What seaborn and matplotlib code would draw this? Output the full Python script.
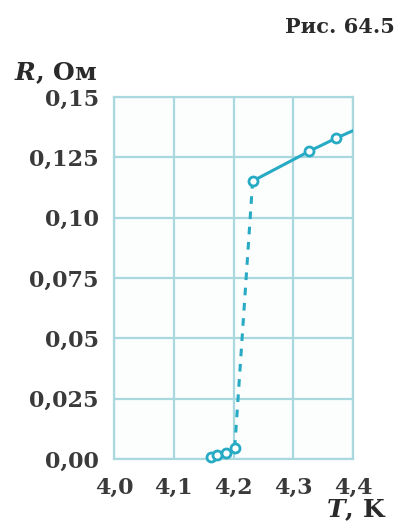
import matplotlib
matplotlib.use("Agg")
import matplotlib.pyplot as plt
import seaborn as sns
import pandas as pd

# data (T in K, R in Ohm)
T_low = [4.162, 4.173, 4.188, 4.202]
R_low = [0.0008, 0.0017, 0.0025, 0.0046]
T_jump = [4.202, 4.232]
R_jump = [0.0046, 0.1152]
T_high = [4.232, 4.327, 4.372]
R_high = [0.1152, 0.1276, 0.1330]
T_line = [4.232, 4.327, 4.372, 4.41]
R_line = [0.1152, 0.1276, 0.1330, 0.1372]
x_ticks = [4.0, 4.1, 4.2, 4.3, 4.4]
x_labels = ["4,0", "4,1", "4,2", "4,3", "4,4"]
y_ticks = [0.0, 0.025, 0.05, 0.075, 0.10, 0.125, 0.15]
y_labels = ["0,00", "0,025", "0,05", "0,075", "0,10", "0,125", "0,15"]

sns.set_style("white")
plt.rcParams['font.family'] = ['DejaVu Serif']
plt.rcParams['mathtext.fontset'] = 'dejavuserif'

line_c = "#27aac4"
grid_c = "#a9d9de"
text_c = "#2a2a2a"

fig = plt.figure(figsize=(4.09, 5.28), dpi=100)
ax = fig.add_axes([0.279, 0.131, 0.584, 0.685])
ax.set_facecolor("#fcfefe")

sns.lineplot(x=T_low, y=R_low, ax=ax, color=line_c, lw=2.2, sort=False, zorder=3)
sns.lineplot(x=T_jump, y=R_jump, ax=ax, color=line_c, lw=2.2, sort=False,
             linestyle=(0, (2.5, 2.5)), zorder=3)
sns.lineplot(x=T_line, y=R_line, ax=ax, color=line_c, lw=2.2, sort=False, zorder=3)
ax.plot(T_low + T_high, R_low + R_high, linestyle="none", marker="o", ms=6.5,
        mfc="white", mec=line_c, mew=2.0, zorder=4, clip_on=False)

ax.set_xlim(4.0, 4.4)
ax.set_ylim(0.0, 0.15)
ax.set_xticks(x_ticks)
ax.set_xticklabels(x_labels)
ax.set_yticks(y_ticks)
ax.set_yticklabels(y_labels)
ax.tick_params(axis="both", length=0, labelsize=16, colors="#3a3a3a")
ax.tick_params(axis="x", pad=13)
ax.tick_params(axis="y", pad=11)
for lab in ax.get_xticklabels() + ax.get_yticklabels():
    lab.set_fontweight("bold")
ax.grid(True, color=grid_c, lw=1.6)
for s in ax.spines.values():
    s.set_color(grid_c)
    s.set_linewidth(1.6)

fig.text(0.965, 0.948, "Рис. 64.5", ha="right", va="center", fontsize=15,
         fontweight="bold", color=text_c)
fig.text(0.035, 0.862, "$\\mathbfit{R}$, Ом", ha="left", va="center", fontsize=18,
         fontweight="bold", color=text_c)
fig.text(0.945, 0.034, "$\\mathbfit{T}$, K", ha="right", va="center", fontsize=18,
         fontweight="bold", color=text_c)

fig.savefig("out.png", dpi=100, facecolor="white")
